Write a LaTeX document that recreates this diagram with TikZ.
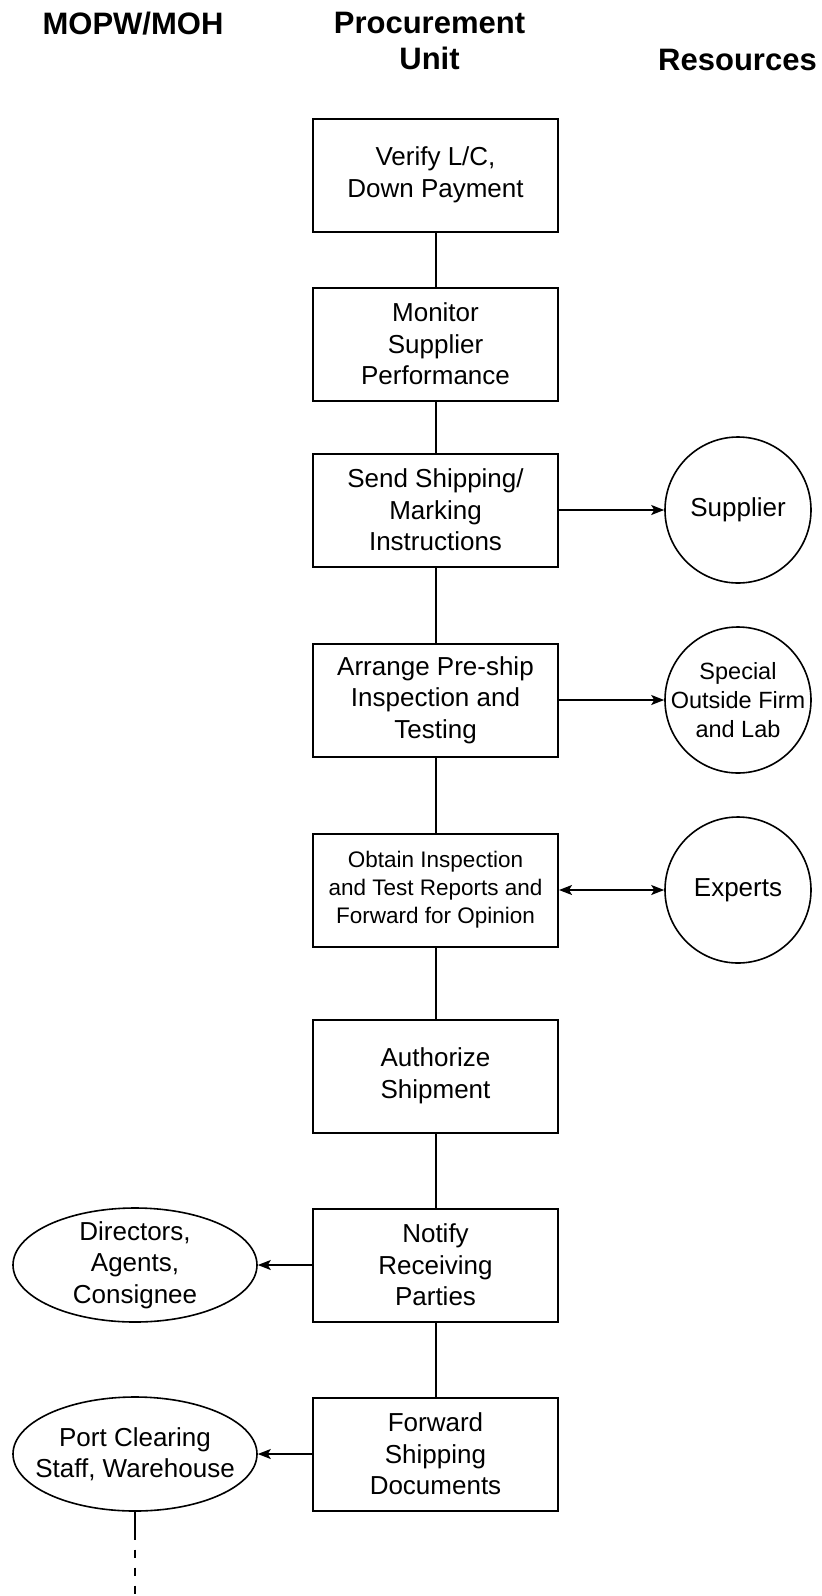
\documentclass[tikz,border=0pt]{standalone}
\usepackage{fontspec}
\setmainfont{Liberation Sans}
\usetikzlibrary{shapes.geometric, arrows.meta, positioning}

\begin{document}
\begin{tikzpicture}[x=1pt, y=-1pt,
  >={Stealth[length=13pt, width=10pt, inset=3pt]},
  stepbox/.style={draw, line width=2pt, minimum width=245pt, minimum height=113pt, inner sep=0pt, align=center, font=\fontsize{26}{31.5}\selectfont},
  party/.style={draw, ellipse, line width=1.6pt, minimum width=244pt, minimum height=114pt, inner xsep=-20pt, inner ysep=-6pt, align=center, font=\fontsize{26}{31.5}\selectfont},
  source/.style={draw, circle, line width=1.6pt, minimum size=146pt, inner sep=-8pt, align=center, font=\fontsize{26}{31.5}\selectfont},
  head/.style={font=\fontsize{31}{36}\selectfont\bfseries, inner sep=0pt, align=center},
  link/.style={line width=2pt},
  flow/.style={line width=1.6pt, ->}]
\useasboundingbox (0,0) rectangle (822,1596);

% Column headings
\node[head, anchor=base] (colmin) at (133,34) {MOPW/MOH};
\node[head, anchor=north] (colproc) at (429.5,11.8) {Procurement\\Unit};
\node[head, anchor=base] (colres) at (737.5,70) {Resources};

% Steps of the procurement unit
\node[stepbox] (verify) at (435.5,175) {Verify L/C,\\Down Payment};
\node[stepbox] (monitor) at (435.5,344) {Monitor\\Supplier\\Performance};
\node[stepbox] (shipping) at (435.5,510) {Send Shipping/\\Marking\\Instructions};
\node[stepbox] (preship) at (435.5,700) {Arrange Pre-ship\\Inspection and\\Testing};
\node[stepbox, font=\fontsize{22.5}{28}\selectfont] (reports) at (435.5,890) {Obtain Inspection\\and Test Reports and\\Forward for Opinion};
\node[stepbox] (authorize) at (435.5,1076) {Authorize\\Shipment};
\node[stepbox] (notify) at (435.5,1265) {Notify\\Receiving\\Parties};
\node[stepbox] (documents) at (435.5,1454) {Forward\\Shipping\\Documents};

% Resources
\node[source] (supplier) at (738,510) {Supplier};
\node[source, font=\fontsize{23.5}{29}\selectfont] (firm) at (738,700) {Special\\Outside Firm\\and Lab};
\node[source] (experts) at (738,890) {Experts};

% MOPW/MOH parties
\node[party] (directors) at (135,1265) {Directors,\\Agents,\\Consignee};
\node[party] (clearing) at (135,1454) {Port Clearing\\Staff, Warehouse};
\coordinate (handoff) at (135,1540);
\coordinate (pageend) at (135,1596);

\draw[link] (verify) -- (monitor);
\draw[link] (monitor) -- (shipping);
\draw[link] (shipping) -- (preship);
\draw[link] (preship) -- (reports);
\draw[link] (reports) -- (authorize);
\draw[link] (authorize) -- (notify);
\draw[link] (notify) -- (documents);

\draw[flow] (shipping) -- (supplier);
\draw[flow] (preship) -- (firm);
\draw[flow, <->] (reports) -- (experts);
\draw[flow] (notify) -- (directors);
\draw[flow] (documents) -- (clearing);

% continues on the next page
\draw[link] (clearing) -- (handoff);
\draw[line width=1.6pt, dash pattern=on 8.5pt off 9.5pt, dash phase=8.5pt] (handoff) -- (pageend);
\end{tikzpicture}
\end{document}
